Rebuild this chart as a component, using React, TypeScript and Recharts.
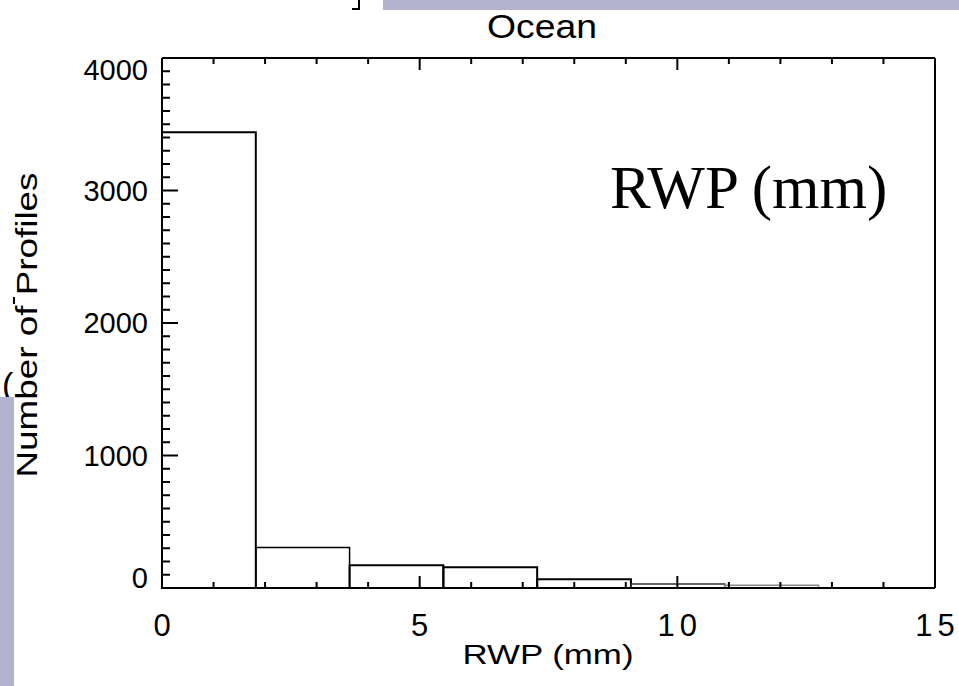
import { ComposedChart, XAxis, YAxis, ReferenceArea, Scatter } from 'recharts';

// histogram bins (RWP, mm) and counts
const binLeft = [0, 1.82, 3.64, 5.46, 7.28, 9.1, 10.92];
const binRight = [1.82, 3.64, 5.46, 7.28, 9.1, 10.92, 12.74];
const counts = [3440, 305, 171, 156, 66, 30, 20];
const binStroke = ['#000', '#000', '#000', '#000', '#000', '#333', '#888'];
const binWidth = [2, 1.5, 2, 2, 2, 1.5, 1.5];

const xTicks = [0, 1, 2, 3, 4, 5, 6, 7, 8, 9, 10, 11, 12, 13, 14, 15];
const yTicks = Array.from({ length: 41 }, (_, i) => i * 100);

const chartData = counts.map((c, i) => ({ mid: (binLeft[i] + binRight[i]) / 2, count: c }));

const LAVENDER = '#b3b3cf';
const SANS = '"Liberation Sans", Arial, sans-serif';

function BottomTick(props: any) {
  const { x, y, payload } = props;
  const major = payload.value % 5 === 0;
  return (
    <g>
      <line x1={x} x2={x} y1={y} y2={y - (major ? 12 : 6)} stroke="#000" strokeWidth={2} />
      {major && (
        <text x={x} y={y + 48} dx={2.5} textAnchor="middle" fontFamily={SANS} fontSize={31} letterSpacing={5} fill="#000">
          {payload.value}
        </text>
      )}
    </g>
  );
}

function TopTick(props: any) {
  const { x, y, payload } = props;
  const major = payload.value % 5 === 0;
  return <line x1={x} x2={x} y1={y} y2={y + (major ? 12 : 6)} stroke="#000" strokeWidth={2} />;
}

function LeftTick(props: any) {
  const { x, y, payload } = props;
  const v = payload.value;
  const major = v % 1000 === 0;
  let ly = y;
  if (v === 0) ly = y - 10;
  if (v === 4000) ly = y + 12;
  return (
    <g>
      <line x1={x} x2={x + (major ? 16 : 8)} y1={y} y2={y} stroke="#000" strokeWidth={2} />
      {major && (
        <text x={x - 14} y={ly} dy="0.36em" textAnchor="end" fontFamily={SANS} fontSize={29} fill="#000">
          {v}
        </text>
      )}
    </g>
  );
}

function RightTick(props: any) {
  const { x, y, payload } = props;
  const major = payload.value % 1000 === 0;
  return <line x1={x} x2={x - (major ? 16 : 8)} y1={y} y2={y} stroke="#000" strokeWidth={2} />;
}

const axisLine = { stroke: '#000', strokeWidth: 2 };

export default function App() {
  return (
    <div style={{ position: 'absolute', left: 0, top: 0, width: 959, height: 686, background: '#fff' }}>
      <ComposedChart width={959} height={686} data={chartData} margin={{ top: 57, right: 23, bottom: 97, left: 161 }}>
        <XAxis xAxisId="b" type="number" dataKey="mid" domain={[0, 15]} ticks={xTicks} interval={0}
          orientation="bottom" height={1} tickSize={0} tickMargin={0} tickLine={false} axisLine={axisLine} tick={<BottomTick />} />
        <XAxis xAxisId="t" type="number" dataKey="mid" domain={[0, 15]} ticks={xTicks} interval={0}
          orientation="top" height={1} tickSize={0} tickMargin={0} tickLine={false} axisLine={axisLine} tick={<TopTick />} />
        <YAxis yAxisId="l" type="number" domain={[0, 4000]} ticks={yTicks} interval={0}
          orientation="left" width={1} tickSize={0} tickMargin={0} tickLine={false} axisLine={axisLine} tick={<LeftTick />} />
        <YAxis yAxisId="r" type="number" domain={[0, 4000]} ticks={yTicks} interval={0}
          orientation="right" width={1} tickSize={0} tickMargin={0} tickLine={false} axisLine={axisLine} tick={<RightTick />} />
        <Scatter xAxisId="b" yAxisId="l" dataKey="count" isAnimationActive={false} shape={() => <g />} />
        {counts.map((c, i) => (
          <ReferenceArea key={i} xAxisId="b" yAxisId="l" x1={binLeft[i]} x2={binRight[i]} y1={0} y2={c}
            fill="none" fillOpacity={0} stroke={binStroke[i]} strokeWidth={binWidth[i]} ifOverflow="visible" />
        ))}
      </ComposedChart>
      <svg width={959} height={686} style={{ position: 'absolute', left: 0, top: 0, pointerEvents: 'none' }}>
        <rect x={383} y={0} width={576} height={10} fill={LAVENDER} />
        <path d="M352 9 H359 V0" stroke="#000" strokeWidth={2} fill="none" />
        <text x={542} y={38} textAnchor="middle" fontFamily={SANS} fontSize={34} textLength={110} lengthAdjust="spacingAndGlyphs" fill="#000">
          Ocean
        </text>
        <text x={610} y={208} fontFamily='"Liberation Serif", "Times New Roman", serif' fontSize={61} fill="#000">
          RWP (mm)
        </text>
        <text x={548} y={664} textAnchor="middle" fontFamily={SANS} fontSize={27} textLength={171} lengthAdjust="spacingAndGlyphs" fill="#000">
          RWP (mm)
        </text>
        <text x={37} y={325} textAnchor="middle" transform="rotate(-90 37 325)" fontFamily={SANS} fontSize={30} textLength={305} lengthAdjust="spacingAndGlyphs" fill="#000">
          Number of Profiles
        </text>
        <line x1={14} x2={14} y1={297} y2={304} stroke="#000" strokeWidth={2} />
        <text x={2} y={396} fontFamily={SANS} fontSize={34} fill="#000">(</text>
        <rect x={0} y={397} width={14} height={289} fill={LAVENDER} />
      </svg>
    </div>
  );
}
